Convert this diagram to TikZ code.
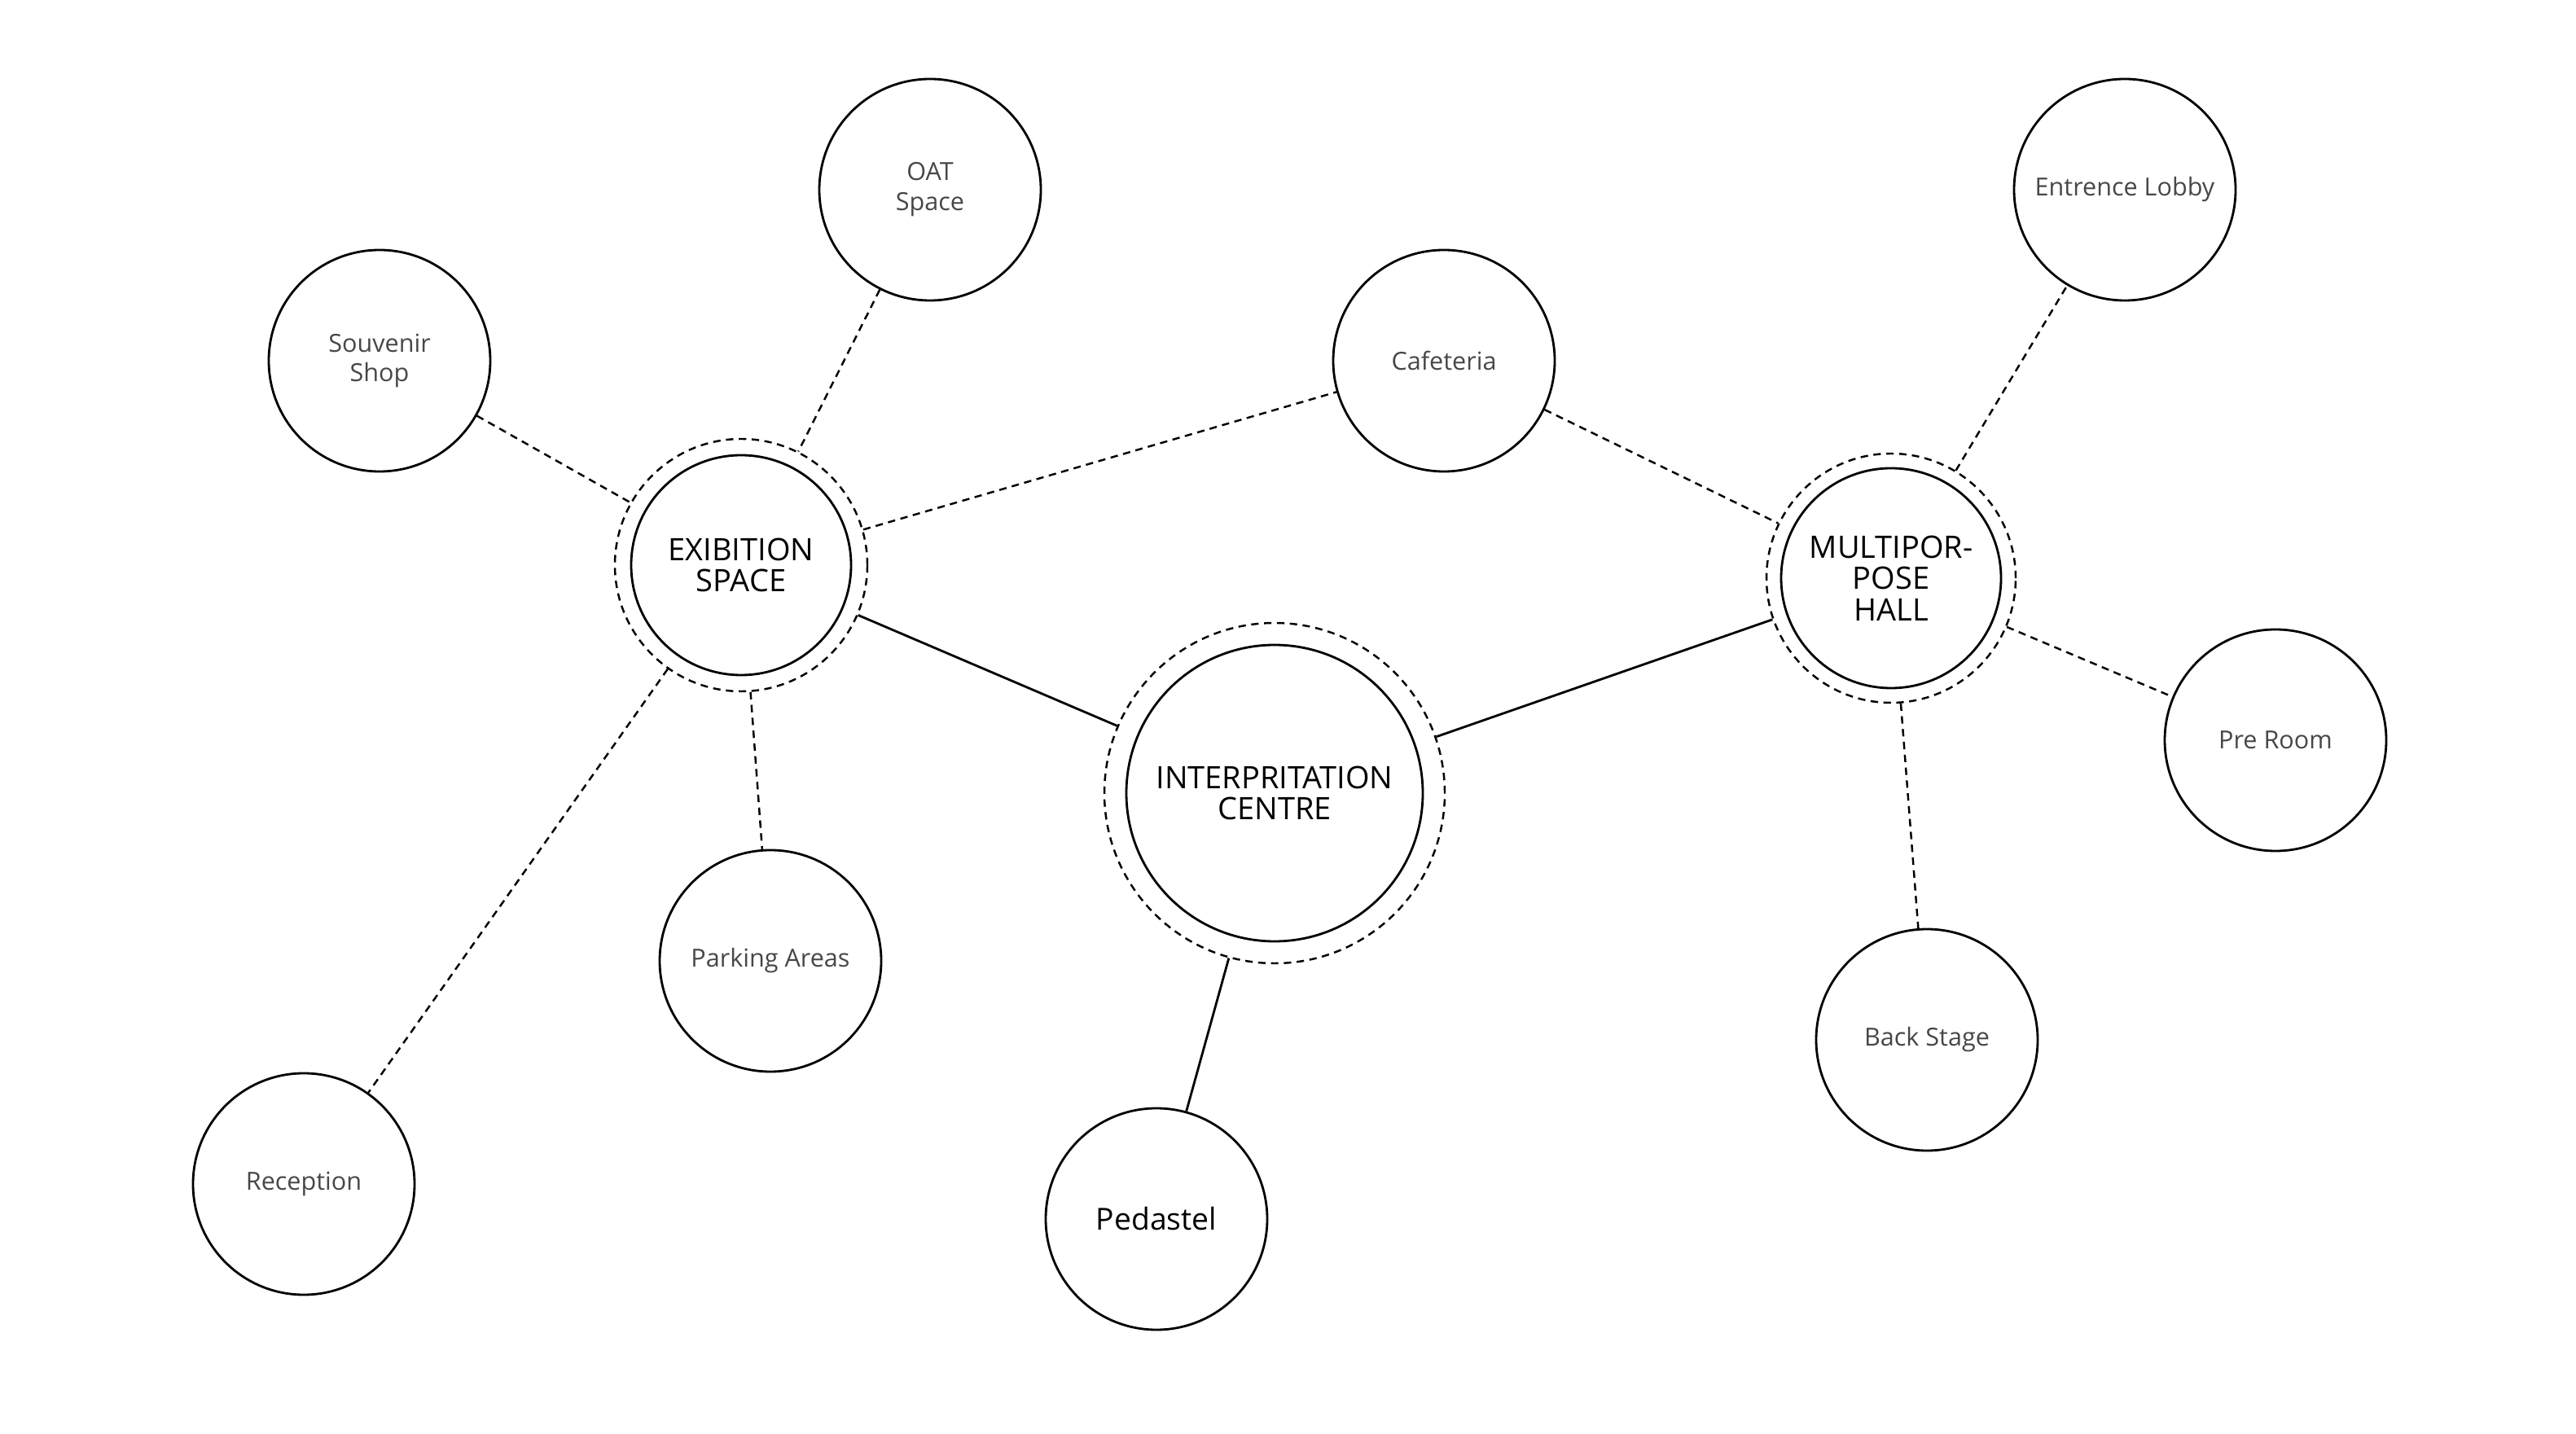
\documentclass[tikz,border=0pt]{standalone}
\usepackage{fontspec}
\setmainfont{Open Sans}
\usetikzlibrary{positioning}
\tikzset{
  roomnode/.style={circle,draw=black,line width=0.8pt,minimum size=2.72cm,inner sep=0pt,align=center,
    text=black!72,font=\fontsize{8.7}{10.5}\selectfont},
  hubnode/.style={circle,draw=black,line width=0.8pt,minimum size=2.7cm,inner sep=0pt,align=center,
    font=\fontsize{10.8}{10.9}\selectfont},
  ringnode/.style={circle,draw=black,line width=0.7pt,dash pattern=on 2.6pt off 1.9pt,inner sep=0pt},
  dashlink/.style={line width=0.7pt,dash pattern=on 2.6pt off 1.9pt},
  solidlink/.style={line width=0.8pt},
}

\begin{document}
\begin{tikzpicture}
  \useasboundingbox (0,0) rectangle (31.63,17.60);
  % ---- main spaces, each inside a dashed ring ----
  \node[hubnode] (exh) at (9.10,10.66) {EXIBITION\\SPACE};
  \node[ringnode,minimum size=3.1cm] (exhring) at (exh) {};
  \node[hubnode,minimum size=3.64cm] (ic) at (15.65,7.86) {INTERPRITATION\\CENTRE};
  \node[ringnode,minimum size=4.18cm] (icring) at (ic) {};
  \node[hubnode] (mph) at (23.22,10.50) {MULTIPOR-\\POSE\\HALL};
  \node[ringnode,minimum size=3.06cm] (mphring) at (mph) {};
  % ---- rooms round them ----
  \node[roomnode] (oat) at (11.42,15.27) {OAT\\Space};
  \node[roomnode] (shop) at (4.66,13.17) {Souvenir\\Shop};
  \node[roomnode] (cafe) at (17.73,13.17) {Cafeteria};
  \node[roomnode] (lobby) at (26.09,15.27) {Entrence Lobby};
  \node[roomnode] (pre) at (27.94,8.51) {Pre Room};
  \node[roomnode] (back) at (23.66,4.83) {Back Stage};
  \node[roomnode] (park) at (9.46,5.80) {Parking Areas};
  \node[roomnode] (recep) at (3.73,3.06) {Reception};
  \node[roomnode,text=black,font=\fontsize{10.6}{12}\selectfont] (ped) at (14.20,2.63) {Pedastel};
  % ---- links ----
  \draw[dashlink] (shop) -- (exhring);
  \draw[dashlink] (oat) -- (exhring);
  \draw[dashlink] (exhring) -- (cafe);
  \draw[dashlink] (exhring) -- (park);
  \draw[dashlink] (exhring) -- (recep);
  \draw[dashlink] (cafe) -- (mphring);
  \draw[dashlink] (mphring) -- (lobby);
  \draw[dashlink] (mphring) -- (pre);
  \draw[dashlink] (mphring) -- (back);
  \draw[solidlink] (exhring) -- (icring);
  \draw[solidlink] (icring) -- (mphring);
  \draw[solidlink] (icring) -- (ped);
\end{tikzpicture}
\end{document}
